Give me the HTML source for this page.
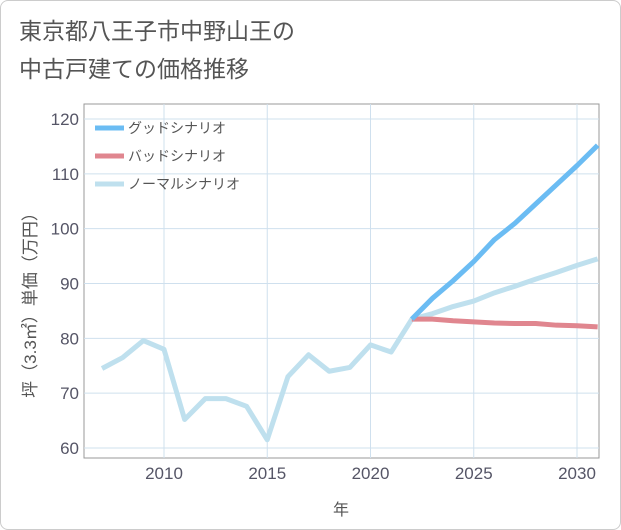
<!DOCTYPE html>
<html><head><meta charset="utf-8"><style>
body{margin:0;background:#fff;}
#wrap{position:relative;width:619px;height:528px;border:1px solid #ccc;border-radius:8px;background:#fff;overflow:hidden;}
#title{position:absolute;left:18px;top:11px;font:23px "Liberation Sans","Noto Sans CJK JP",sans-serif;color:#555;line-height:38px;}
svg{position:absolute;left:0;top:0;}
text{font-family:"Liberation Sans","Noto Sans CJK JP",sans-serif;}
</style></head><body>
<div id="wrap">
<div id="title">東京都八王子市中野山王の<br>中古戸建ての価格推移</div>
<svg id="chart" width="621" height="530"></svg>
</div>
<script>
const years=[2007,2008,2009,2010,2011,2012,2013,2014,2015,2016,2017,2018,2019,2020,2021,2022,2023,2024,2025,2026,2027,2028,2029,2030,2031];
const normalVals=[74.5,76.5,79.6,78,65.2,69,69,67.6,61.5,73,77,74,74.7,78.8,77.5,83.5,84.5,85.8,86.8,88.3,89.5,90.8,92,93.3,94.5];
const goodYears=[2022,2023,2024,2025,2026,2027,2028,2029,2030,2031];
const goodVals=[83.5,87.3,90.5,94,98,101,104.5,108,111.5,115.2];
const badVals=[83.5,83.5,83.2,83,82.8,82.7,82.7,82.4,82.3,82.1];
const xTicks=[2010,2015,2020,2025,2030];
const yTicks=[60,70,80,90,100,110,120];
const NS='http://www.w3.org/2000/svg';
const svg=document.getElementById('chart');
const L=83,R=598,T=103,B=457;
const x=v=>163+(v-2010)*20.65;
const y=v=>447-(v-60)*5.483;
function mk(t,a){const e=document.createElementNS(NS,t);for(const k in a)e.setAttribute(k,a[k]);svg.appendChild(e);return e;}
const frame=mk('rect',{x:L,y:T,width:R-L,height:B-T,fill:'none',stroke:'#999','stroke-width':1});


xTicks.forEach(v=>{
 const g=mk('line',{x1:x(v),x2:x(v),y1:T,y2:B,stroke:'#cfe0ee','stroke-width':1});
 
 
 const t=mk('text',{x:x(v),y:478,'text-anchor':'middle','font-size':17,fill:'#556'});t.textContent=v;
 
 
});
yTicks.forEach(v=>{
 const g=mk('line',{x1:L,x2:R,y1:y(v),y2:y(v),stroke:'#cfe0ee','stroke-width':1});
 
 
 const t=mk('text',{x:78,y:y(v)+6,'text-anchor':'end','font-size':17,fill:'#556'});t.textContent=v;
 
 
});
const xt=mk('text',{x:340,y:514,'text-anchor':'middle','font-size':16,fill:'#555'});xt.textContent='年';


const yt=mk('text',{x:0,y:0,'text-anchor':'middle','font-size':17,fill:'#555',transform:'translate(35,300) rotate(-90)'});yt.textContent='坪（3.3㎡）単価（万円）';


function line(xs,vals,color,name){
 const p=mk('polyline',{points:vals.map((v,i)=>x(xs[i])+','+y(v)).join(' '),fill:'none',stroke:color,'stroke-width':5,'stroke-linejoin':'round'});
 
 
}
line(years,normalVals,'#bfe0ee','normal-scenario-line');
line(goodYears,badVals,'#e0868f','bad-scenario-line');
line(goodYears,goodVals,'#6bbcf3','good-scenario-line');
[['グッドシナリオ','#6bbcf3'],['バッドシナリオ','#e0868f'],['ノーマルシナリオ','#bfe0ee']].forEach((d,i)=>{
 const yy=127+i*28;
 const l=mk('line',{x1:94,x2:123,y1:yy,y2:yy,stroke:d[1],'stroke-width':5});
 
 
 const t=mk('text',{x:127,y:yy+5,'font-size':14,fill:'#555'});t.textContent=d[0];
 
 
});
</script>
</body></html>
